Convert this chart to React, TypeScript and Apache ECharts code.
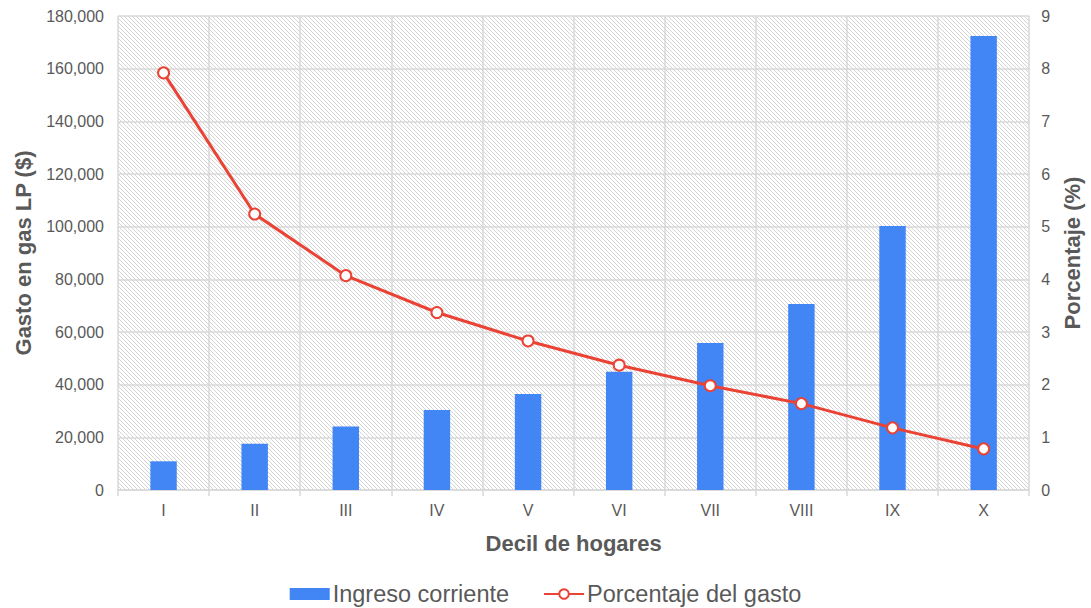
import React, { useEffect, useRef } from "react";
import * as echarts from "echarts";

const categories = ["I", "II", "III", "IV", "V", "VI", "VII", "VIII", "IX", "X"];
const ingresoCorriente = [10900, 17600, 24100, 30400, 36500, 44900, 55800, 70600, 100300, 172400];
const porcentajeGasto = [7.92, 5.24, 4.07, 3.37, 2.83, 2.37, 1.98, 1.64, 1.18, 0.78];

function makeHatch(): string {
  const c = document.createElement("canvas");
  c.width = 4;
  c.height = 4;
  const ctx = c.getContext("2d")!;
  ctx.fillStyle = "#ffffff";
  ctx.fillRect(0, 0, 4, 4);
  ctx.fillStyle = "#d4d4d4";
  for (let i = 0; i < 4; i++) ctx.fillRect(i, i, 1, 1);
  return c.toDataURL();
}

export default function App() {
  const ref = useRef<HTMLDivElement>(null);
  useEffect(() => {
    document.body.style.margin = "0";
    document.body.style.overflow = "hidden";
    const chart = echarts.init(ref.current!, undefined, { renderer: "svg" });
    const font = "Liberation Sans, Arial, sans-serif";
    const hatch = makeHatch();
    chart.setOption({
      animation: false,
      textStyle: { fontFamily: font },
      grid: {
        left: 118,
        right: 53,
        top: 16,
        bottom: 118,
        show: true,
        borderWidth: 0,
        backgroundColor: { image: hatch, repeat: "repeat" } as any,
      },
      legend: {
        bottom: -3,
        left: "center",
        itemGap: 34,
        itemWidth: 40,
        itemHeight: 12,
        textStyle: { fontSize: 23.5, color: "#595959", fontFamily: font, padding: [0, 0, 0, -2] },
        data: [
          { name: "Ingreso corriente", icon: "rect" },
          { name: "Porcentaje del gasto" },
        ],
      },
      xAxis: {
        type: "category",
        data: categories,
        name: "Decil de hogares",
        nameLocation: "middle",
        nameGap: 42,
        nameTextStyle: { fontSize: 22, fontWeight: "bold", color: "#595959" },
        axisLine: { lineStyle: { color: "#d9d9d9", width: 1.5 } },
        axisTick: { show: true, length: 6, lineStyle: { color: "#d9d9d9", width: 1.5 } },
        axisLabel: { fontSize: 16, color: "#595959", margin: 12 },
        splitLine: { show: true, lineStyle: { color: "#d9d9d9", width: 1.5 } },
      },
      yAxis: [
        {
          type: "value",
          min: 0,
          max: 180000,
          interval: 20000,
          name: "Gasto en gas LP ($)",
          nameLocation: "middle",
          nameGap: 84,
          nameRotate: 90,
          nameTextStyle: { fontSize: 22, fontWeight: "bold", color: "#595959" },
          axisLine: { show: false },
          axisTick: { show: false },
          axisLabel: {
            fontSize: 16,
            color: "#595959",
            margin: 14,
            formatter: (v: number) => v.toLocaleString("en-US"),
          },
          splitLine: { show: true, lineStyle: { color: "#d9d9d9", width: 1.5 } },
        },
        {
          type: "value",
          min: 0,
          max: 9,
          interval: 1,
          name: "Porcentaje (%)",
          nameLocation: "middle",
          nameGap: 31,
          nameRotate: 90,
          nameTextStyle: { fontSize: 22, fontWeight: "bold", color: "#595959" },
          axisLine: { show: false },
          axisTick: { show: false },
          axisLabel: { fontSize: 16, color: "#595959", margin: 12 },
          splitLine: { show: false },
        },
      ],
      series: [
        {
          name: "Ingreso corriente",
          type: "bar",
          data: ingresoCorriente,
          barWidth: "29%",
          itemStyle: { color: "#4285f4" },
          yAxisIndex: 0,
        },
        {
          name: "Porcentaje del gasto",
          type: "line",
          data: porcentajeGasto,
          yAxisIndex: 1,
          symbol: "circle",
          symbolSize: 11,
          lineStyle: { color: "#ea4335", width: 3 },
          itemStyle: { color: "#ffffff", borderColor: "#ea4335", borderWidth: 2 },
        },
      ],
    });
    return () => chart.dispose();
  }, []);
  return <div ref={ref} style={{ width: 1091, height: 608 }} />;
}
